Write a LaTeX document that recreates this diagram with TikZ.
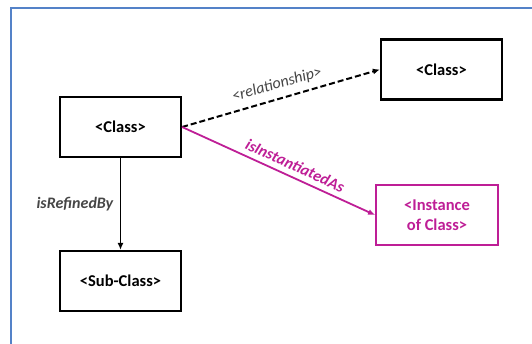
\documentclass[tikz,border=0pt]{standalone}
\usepackage{fontspec}
\usetikzlibrary{arrows.meta}
\setmainfont{Carlito}
\definecolor{framebl}{RGB}{84,130,200}
\definecolor{inst}{RGB}{190,30,150}
\definecolor{lbl}{RGB}{70,70,70}
\begin{document}
\begin{tikzpicture}[x=1pt, y=-1pt, >={Latex[length=7pt,width=6pt]},
    box/.style={draw, line width=2.2pt, minimum width=121pt, minimum height=60pt,
      font=\fontsize{16.5}{20}\selectfont\bfseries, align=center},
    lab/.style={font=\fontsize{16}{18}\selectfont\itshape, sloped, above}]
  \useasboundingbox (0,0) rectangle (532,343);
  \clip (0,0) rectangle (532,343);
  \draw[framebl, line width=1.5pt] (11,8) rectangle (560,370);

  \node[box] (cls) at (120.5,127) {<Class>};
  \node[box] (other) at (441.5,69.5) {<Class>};
  \node[box] (sub) at (120.5,281) {<Sub-Class>};
  \node[box, draw=inst, text=inst, line width=1.8pt, minimum width=122pt] (inst) at (437,215)
    {<Instance\\of Class>};

  \draw[->, dash pattern=on 6pt off 3pt, line width=2pt] (cls.east) -- (other.west)
    node[lab, lbl, midway, yshift=3pt] {<relationship>};
  \draw[->, inst, line width=1.8pt] (cls.east) -- (inst.west)
    node[lab, pos=.56, yshift=2pt, font=\fontsize{16}{18}\selectfont\bfseries\itshape] {isInstantiatedAs};
  \draw[->, line width=1.8pt] (cls) -- (sub)
    node[lbl, left, pos=.5, xshift=-3pt, font=\fontsize{16}{18}\selectfont\bfseries\itshape] {isRefinedBy};
\end{tikzpicture}
\end{document}
